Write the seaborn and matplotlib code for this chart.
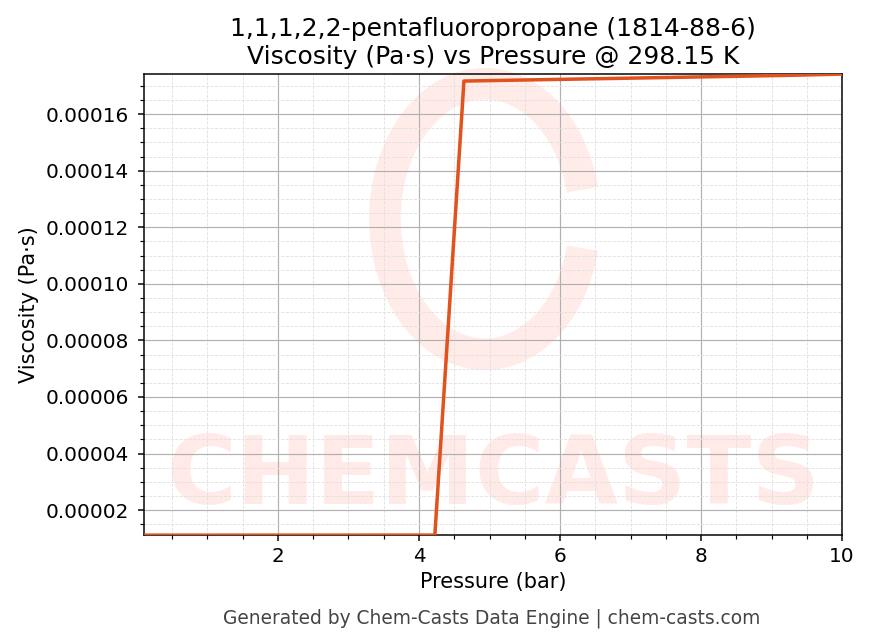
import matplotlib
matplotlib.use("Agg")
import matplotlib.pyplot as plt
import seaborn as sns
import pandas as pd
from matplotlib.ticker import AutoMinorLocator
from matplotlib.patches import Arc

pressure_bar = [0.1, 0.5125, 0.925, 1.3375, 1.75, 2.1625, 2.575, 2.9875, 3.4, 3.8125,
                4.225, 4.6375, 5.05, 5.4625, 5.875, 6.2875, 6.7, 7.1125, 7.525, 7.9375,
                8.35, 8.7625, 9.175, 9.5875, 10.0]
viscosity = [1.116e-5, 1.116e-5, 1.116e-5, 1.116e-5, 1.117e-5, 1.117e-5, 1.117e-5, 1.117e-5,
             1.118e-5, 1.118e-5, 1.118e-5, 1.7167e-4, 1.7185e-4, 1.7203e-4, 1.7221e-4,
             1.7239e-4, 1.7257e-4, 1.7275e-4, 1.7293e-4, 1.7311e-4, 1.7329e-4, 1.7347e-4,
             1.7365e-4, 1.7389e-4, 1.7414e-4]

title = "1,1,1,2,2-pentafluoropropane (1814-88-6)\nViscosity (Pa·s) vs Pressure @ 298.15 K"
xlabel = "Pressure (bar)"
ylabel = "Viscosity (Pa·s)"
footer = "Generated by Chem-Casts Data Engine | chem-casts.com"

df = pd.DataFrame({"p": pressure_bar, "v": viscosity})

sns.set_style("ticks")
plt.rcParams['font.family'] = ['DejaVu Sans']
for k in ["text.color", "axes.labelcolor", "xtick.color", "ytick.color"]:
    plt.rcParams[k] = "black"

DPI = 120
fig = plt.figure(figsize=(869 / DPI, 644 / DPI), dpi=DPI)
ax = fig.add_axes([0.1657, 0.169, 0.8033, 0.716])

# watermark (inside axes)
wm_color = "#ff9a8a"
ax.text(0.5, 0.125, "CHEMCASTS", transform=ax.transAxes, ha="center", va="center",
        fontsize=57, fontweight="bold", color=wm_color, alpha=0.2, zorder=0, clip_on=True)
arc = Arc((0.558, 0.66), 0.23, 0.42, angle=0, theta1=22, theta2=338,
          transform=fig.transFigure, color=wm_color, alpha=0.18, lw=19, zorder=0)
fig.add_artist(arc)

sns.lineplot(data=df, x="p", y="v", ax=ax, color="#e0521e", linewidth=2.1, zorder=3)
ax.set_facecolor("none")

ax.set_xlim(0.1, 10)
ax.set_ylim(min(viscosity), max(viscosity))
ax.xaxis.set_minor_locator(AutoMinorLocator(4))
ax.yaxis.set_minor_locator(AutoMinorLocator(4))
ax.grid(which="major", color="#b0b0b0", linewidth=0.7, linestyle="-")
ax.grid(which="minor", color="#e0e0e0", linewidth=0.5, linestyle="--")
ax.set_axisbelow(True)
ax.yaxis.set_major_formatter(plt.FuncFormatter(lambda v, p: f"{v:.5f}"))
ax.tick_params(which="major", length=3.5, width=0.9, labelsize=12, direction="out", colors="black")
ax.tick_params(axis="y", which="major", pad=5.5)
ax.tick_params(which="minor", length=2.2, width=0.7, direction="out", colors="black")
for s in ax.spines.values():
    s.set_color("black")
    s.set_linewidth(0.9)

ax.set_title(title, fontsize=15, pad=6)
ax.set_xlabel(xlabel, fontsize=12.5)
ax.set_ylabel(ylabel, fontsize=12.5)
fig.text(0.566, 0.04, footer, ha="center", va="center", fontsize=11.2, color="#444444")

fig.savefig("out.png", dpi=DPI)
